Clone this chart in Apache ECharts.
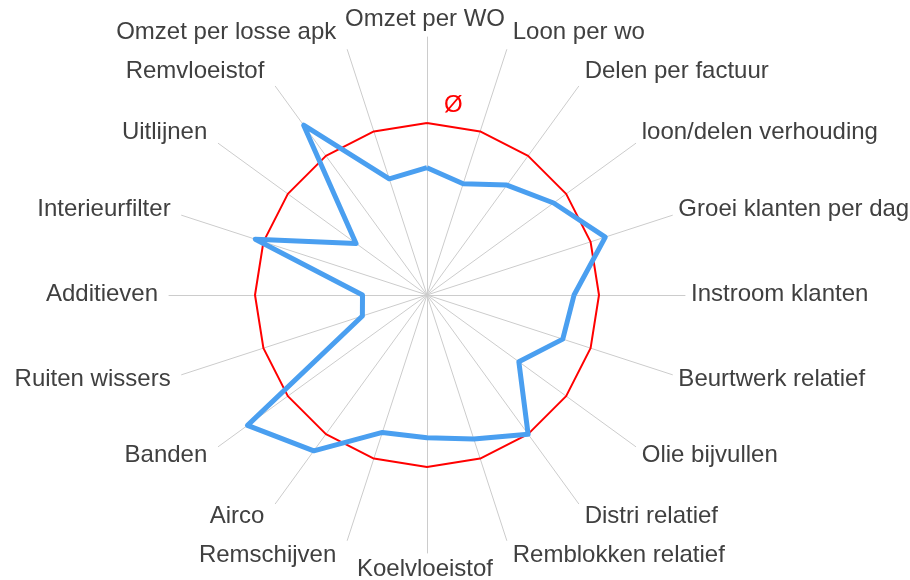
<!DOCTYPE html>
<html>
<head>
<meta charset="utf-8">
<script src="https://cdn.jsdelivr.net/npm/echarts@6/dist/echarts.min.js"></script>
<style>
  body { margin: 0; background: #fff; }
  #radar { width: 910px; height: 580px; }
</style>
</head>
<body>
<div id="radar"></div>
<script>
// indicators clockwise from the top
let categories = ['Omzet per WO', 'Loon per wo', 'Delen per factuur', 'loon/delen verhouding',
    'Groei klanten per dag', 'Instroom klanten', 'Beurtwerk relatief', 'Olie bijvullen',
    'Distri relatief', 'Remblokken relatief', 'Koelvloeistof', 'Remschijven', 'Airco',
    'Banden', 'Ruiten wissers', 'Additieven', 'Interieurfilter', 'Uitlijnen',
    'Remvloeistof', 'Omzet per losse apk'];
let values = [74, 68, 79, 91, 109, 85.5, 83, 66, 100, 88, 83, 84, 112, 129, 39.5, 37.5, 105, 51, 122, 71];
let average = [100, 100, 100, 100, 100, 100, 100, 100, 100, 100, 100, 100, 100, 100, 100, 100, 100, 100, 100, 100];
let axisMax = 150;

let cx = 427, cy = 295, R = 258;

// echarts lays radar indicators out counterclockwise, so flip all but the first
function flip(arr){
    return [arr[0]].concat(arr.slice(1).reverse());
}

RadarChart = echarts.init(document.getElementById('radar'));

indicators = [];
for(i = 0; i < categories.length; ++i){
    indicators.push({name: categories[i], max: axisMax});
}

// names placed like the original: left/right of the spoke end, shifted up or down with the angle
name_texts = [];
for(i = 0; i < categories.length; ++i){
    a = i * 2 * Math.PI / categories.length;
    s = Math.sin(a);
    c = Math.cos(a);
    ex = cx + R * s;
    ey = cy - R * c;
    if(Math.abs(s) < 0.01){
        x = cx - 2; align = 'center';
    }
    else if(s > 0){
        x = ex + 6; align = 'left';
    }
    else{
        x = ex - 11; align = 'right';
    }
    name_texts.push({
        type: 'text',
        x: x,
        y: ey - 17 * c - 1,
        silent: true,
        style: {
            text: categories[i],
            fill: '#404040',
            font: '24px "Liberation Sans"',
            textAlign: align,
            textVerticalAlign: 'middle'
        }
    });
}
name_texts.push({
    type: 'text',
    x: 444,
    y: 105,
    silent: true,
    style: {
        text: 'Ø',
        fill: '#ff0000',
        font: '24px "Liberation Sans"',
        textAlign: 'left',
        textVerticalAlign: 'middle'
    }
});

radar_chart = {
    animation: false,
    radar: {
        center: [cx, cy],
        radius: R,
        startAngle: 90,
        indicator: flip(indicators),
        axisName: {show: false},
        axisLine: {
            lineStyle: {color: '#cccccc', width: 1}
        },
        splitLine: {show: false},
        splitArea: {show: false}
    },
    graphic: name_texts,
    series: [{
        type: 'radar',
        symbol: 'none',
        data: [
            {
                name: 'Ø',
                value: flip(average),
                lineStyle: {color: '#ff0000', width: 2}
            },
            {
                name: 'waarde',
                value: flip(values),
                lineStyle: {color: '#4a9ff0', width: 5}
            }
        ]
    }]
};

RadarChart.setOption(radar_chart);
</script>
</body>
</html>
